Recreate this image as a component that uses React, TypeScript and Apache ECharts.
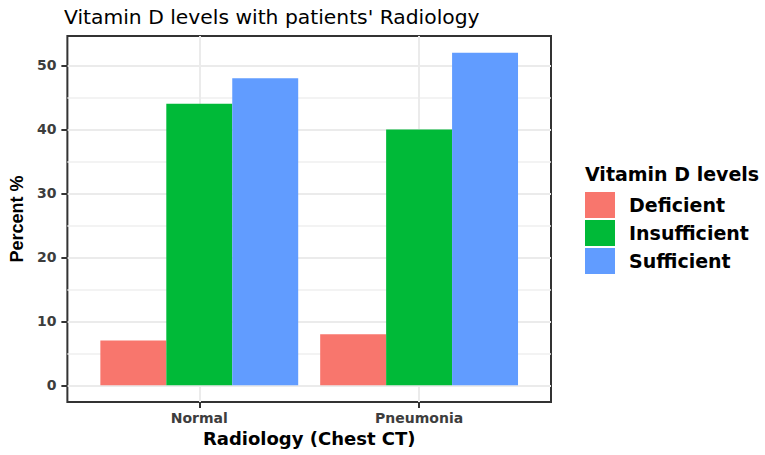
import React, { useEffect, useRef } from 'react';
import * as echarts from 'echarts';

const titleText = "Vitamin D levels with patients' Radiology";
const xTitle = 'Radiology (Chest CT)';
const yTitle = 'Percent %';
const legendTitle = 'Vitamin D levels';
const categories = ['Normal', 'Pneumonia'];
const levels = ['Deficient', 'Insufficient', 'Sufficient'];
const deficient = [7, 8];
const insufficient = [44, 40];
const sufficient = [48, 52];
const yTicks = [0, 10, 20, 30, 40, 50];
const yMinorTicks = [5, 15, 25, 35, 45];
const colors = ['#F8766D', '#00BA38', '#619CFF'];

const DV = '"DejaVu Sans", sans-serif';
const LIB = '"Liberation Sans", Arial, sans-serif';

export default function App() {
  const ref = useRef<HTMLDivElement>(null);
  useEffect(() => {
    if (!ref.current) return;
    const chart = echarts.init(ref.current, null, { renderer: 'svg' });
    const xPos = categories.map((_, i) => i + 1);
    const seriesValues = [deficient, insufficient, sufficient];
    const yMax = 52 * 1.05;
    const yMin = -52 * 0.05;
    chart.setOption({
      animation: false,
      backgroundColor: '#ffffff',
      title: {
        text: titleText,
        left: 64,
        top: 7,
        padding: 0,
        textStyle: { fontFamily: DV, fontSize: 20.3, fontWeight: 'normal', color: '#000000' },
      },
      grid: {
        left: 64,
        right: 214,
        top: 36,
        bottom: 53,
        show: true,
        borderColor: '#333333',
        borderWidth: 2,
        backgroundColor: 'transparent',
        containLabel: false,
      },
      legend: {
        orient: 'vertical',
        left: 585,
        top: 192,
        padding: 0,
        itemWidth: 30,
        itemHeight: 26,
        itemGap: 2,
        icon: 'rect',
        selectedMode: false,
        data: levels,
        textStyle: {
          fontFamily: DV,
          fontWeight: 'bold',
          fontSize: 19,
          color: '#000000',
          padding: [0, 0, 0, 9],
        },
      },
      graphic: [
        {
          type: 'text',
          x: 585,
          y: 164,
          style: {
            text: legendTitle,
            font: `bold 19px ${DV}`,
            fill: '#000000',
            align: 'left',
            verticalAlign: 'top',
          },
        },
      ],
      xAxis: {
        type: 'value',
        min: 0.4,
        max: 2.6,
        axisLine: { show: false, onZero: false },
        axisTick: {
          show: true,
          length: 6,
          customValues: xPos,
          lineStyle: { color: '#333333', width: 2 },
        },
        axisLabel: {
          customValues: xPos,
          formatter: (v: number) => categories[Math.round(v) - 1] ?? '',
          margin: 9,
          fontFamily: DV,
          fontSize: 14,
          fontWeight: 'bold',
          color: '#3d3d3d',
        },
        splitLine: { show: true, lineStyle: { color: '#EBEBEB', width: 2 } },
        name: xTitle,
        nameLocation: 'middle',
        nameGap: 26,
        nameTextStyle: { fontFamily: DV, fontSize: 18, fontWeight: 'bold', color: '#000000' },
      },
      yAxis: [
        {
          type: 'value',
          min: yMin,
          max: yMax,
          axisLine: { show: false, onZero: false },
          axisTick: {
            show: true,
            length: 6,
            customValues: yTicks,
            lineStyle: { color: '#333333', width: 2 },
          },
          axisLabel: {
            customValues: yTicks,
            margin: 11,
            fontFamily: DV,
            fontSize: 14,
            fontWeight: 'bold',
            color: '#3d3d3d',
          },
          splitLine: { show: true, lineStyle: { color: '#EBEBEB', width: 2 } },
          name: yTitle,
          nameLocation: 'middle',
          nameGap: 37,
          nameTextStyle: { fontFamily: LIB, fontSize: 18, fontWeight: 'bold', color: '#000000' },
        },
        {
          type: 'value',
          min: yMin,
          max: yMax,
          position: 'right',
          axisLine: { show: false, onZero: false },
          axisTick: { show: false, customValues: yMinorTicks },
          axisLabel: { show: false, customValues: yMinorTicks },
          splitLine: { show: true, lineStyle: { color: '#EFEFEF', width: 1.5 } },
        },
      ],
      series: levels.map((name, si) => ({
        name,
        type: 'bar',
        xAxisIndex: 0,
        yAxisIndex: 0,
        barGap: '0%',
        barCategoryGap: '10%',
        itemStyle: { color: colors[si] },
        emphasis: { disabled: true },
        data: xPos.map((x, i) => [x, seriesValues[si][i]]),
      })),
    });
    return () => chart.dispose();
  }, []);
  return (
    <div
      ref={ref}
      style={{ position: 'fixed', left: 0, top: 0, width: 765, height: 455, background: '#ffffff' }}
    />
  );
}
